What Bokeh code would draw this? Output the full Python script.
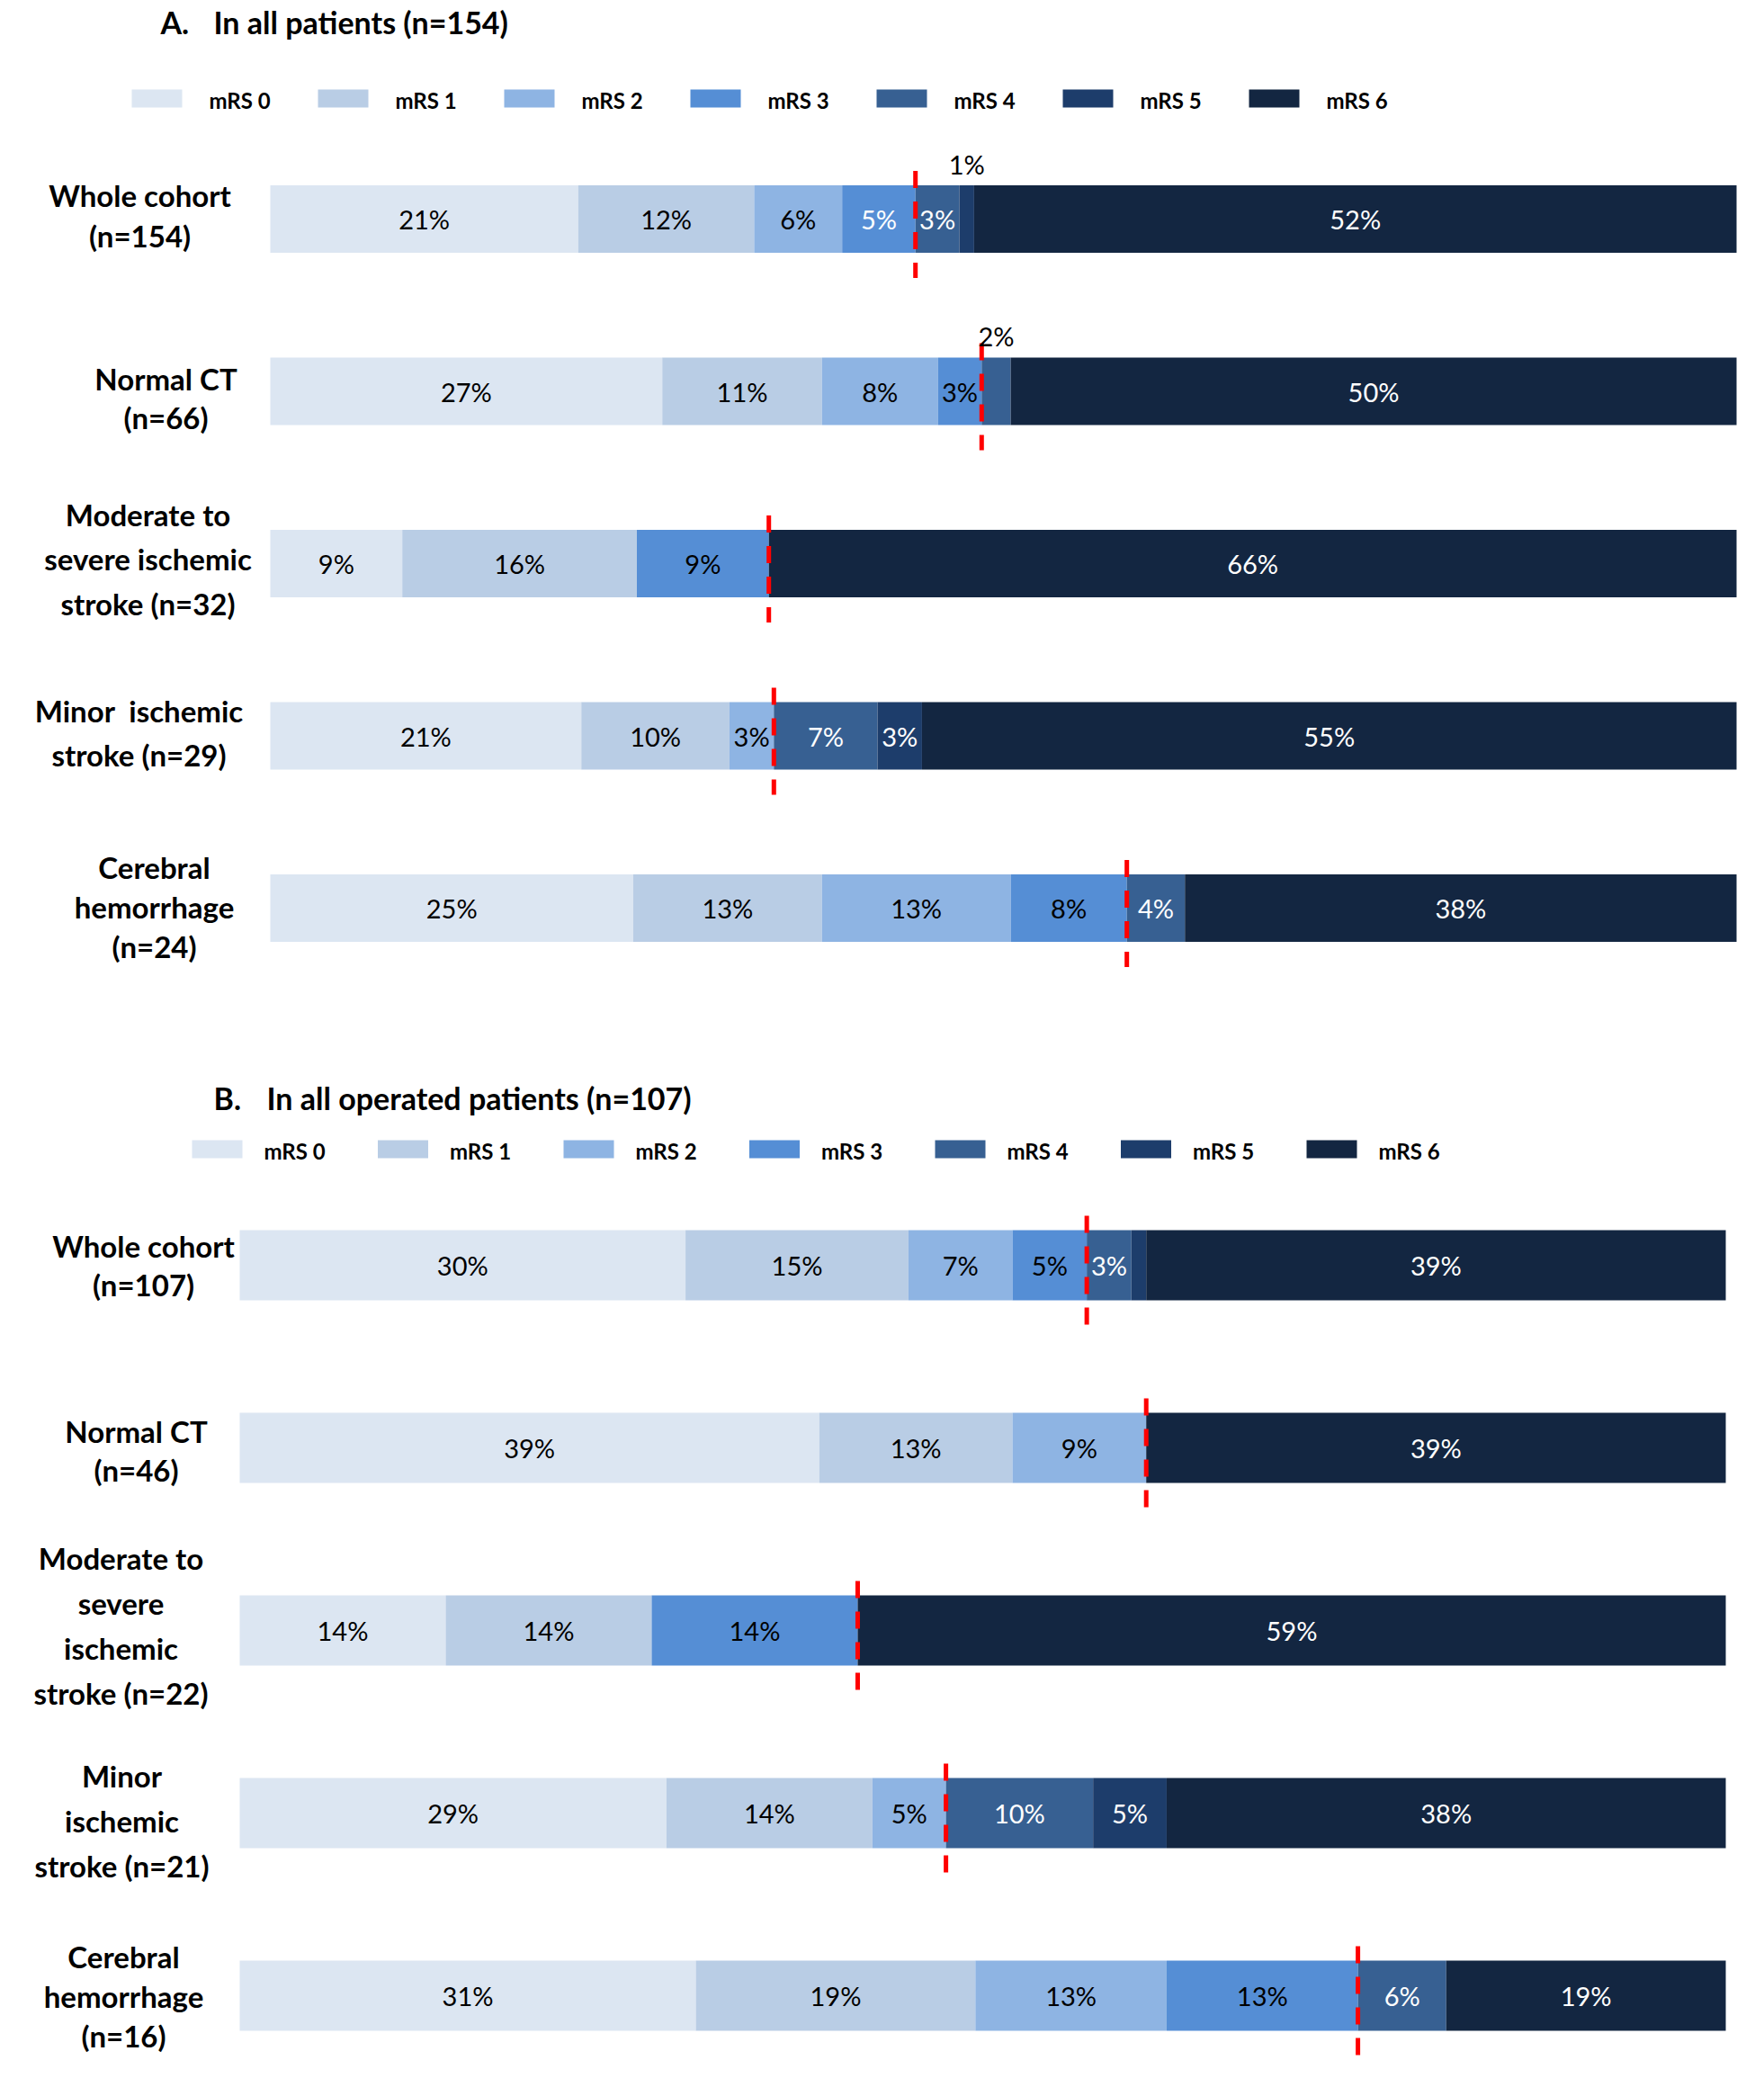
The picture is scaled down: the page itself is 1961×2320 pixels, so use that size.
import numpy as np
from bokeh.plotting import figure
from bokeh.models import ColumnDataSource, Range1d
from bokeh.layouts import column
from bokeh.embed import file_html
from bokeh.resources import INLINE
from bokeh.core.properties import value

# ---------------- data ----------------
categories = ["mRS 0", "mRS 1", "mRS 2", "mRS 3", "mRS 4", "mRS 5", "mRS 6"]
colors = ["#dce6f2", "#b9cde5", "#8eb4e3", "#558ed5", "#376092", "#1d3d6b", "#132641"]

title_a = "In all patients (n=154)"
rows_a = ["Whole cohort\n(n=154)", "Normal CT\n(n=66)",
          "Moderate to\nsevere ischemic\nstroke (n=32)",
          "Minor\u00a0 ischemic\nstroke (n=29)", "Cerebral\nhemorrhage\n(n=24)"]
a_mrs0 = [21, 27, 9, 21, 25]
a_mrs1 = [12, 11, 16, 10, 13]
a_mrs2 = [6, 8, 0, 3, 13]
a_mrs3 = [5, 3, 9, 0, 8]
a_mrs4 = [3, 2, 0, 7, 4]
a_mrs5 = [1, 0, 0, 3, 0]
a_mrs6 = [52, 50, 66, 55, 38]

title_b = "In all operated patients (n=107)"
rows_b = ["Whole cohort\n(n=107)", "Normal CT\n(n=46)",
          "Moderate to\nsevere\nischemic\nstroke (n=22)",
          "Minor\nischemic\nstroke (n=21)", "Cerebral\nhemorrhage\n(n=16)"]
b_mrs0 = [30, 39, 14, 29, 31]
b_mrs1 = [15, 13, 14, 14, 19]
b_mrs2 = [7, 9, 0, 5, 13]
b_mrs3 = [5, 0, 14, 0, 13]
b_mrs4 = [3, 0, 0, 10, 6]
b_mrs5 = [1, 0, 0, 5, 0]
b_mrs6 = [39, 39, 59, 38, 19]

# label handling: (row, series)
a_above = [(0, 5), (1, 4)]
a_hidden = []
a_white = [(0, 3)]
b_above = []
b_hidden = [(0, 5)]
b_white = []

# ---------------- layout (reference pixels) ----------------
FONT = "Lato"
W = 1945
cfg_a = dict(top=0, height=1160, x0=300, x1=1930, row0=243, step=191.5, bar_h=75,
             letter_x=178, text_x=237, title_y=24,
             leg_x=146, leg_dx=207, leg_y=109, leg_off=86,
             lab_x=[155, 184, 164, 154, 171],
             lab_y=[239, 442, 621, 814, 1007],
             lab_lh=[1.12, 1.08, 1.24, 1.23, 1.10])
cfg_b = dict(top=1160, height=1152, x0=266, x1=1918, row0=1406, step=203, bar_h=78,
             letter_x=237, text_x=296, title_y=1220,
             leg_x=213, leg_dx=206.5, leg_y=1277, leg_off=80,
             lab_x=[159, 151, 134, 135, 137],
             lab_y=[1406, 1612, 1806, 2023, 2218],
             lab_lh=[1.08, 1.08, 1.25, 1.25, 1.10])


def panel(letter, title, rows, series, above, hidden, white, c):
    S = (c["x1"] - c["x0"]) / 100.0
    xc = lambda rx: (rx - c["x0"]) / S
    yc = lambda ry: (ry - c["row0"]) / c["step"]
    p = figure(width=W, height=c["height"],
               x_range=Range1d(xc(0), xc(W)),
               y_range=Range1d(yc(c["top"] + c["height"]), yc(c["top"])),
               output_backend="svg", toolbar_location=None,
               x_axis_location=None, y_axis_location=None, min_border=0)
    p.grid.visible = False
    p.outline_line_color = None
    p.background_fill_color = "white"
    p.border_fill_color = "white"

    vals = np.array(series, dtype=float)
    norm = vals / vals.sum(axis=0) * 100.0
    cum = np.cumsum(norm, axis=0)
    left = cum - norm
    n = len(rows)
    ys = np.arange(n, dtype=float)
    bh = c["bar_h"] / c["step"]

    data = {"y": ys}
    names = []
    for i in range(len(categories)):
        data[f"s{i}"] = norm[i]
        names.append(f"s{i}")
    src = ColumnDataSource(data)
    p.hbar_stack(stackers=names, y="y", height=bh, color=colors, source=src,
                 line_color=None)

    # dichotomy line mRS 0-3 vs 4-6
    xd = cum[3]
    p.segment(x0=xd, y0=ys - bh / 2 - 16 / c["step"], x1=xd,
              y1=ys + bh / 2 + 28 / c["step"],
              line_color="#ff0000", line_width=5, line_dash="19 15")

    # percentage labels
    lx, ly, lt, lc = [], [], [], []
    for r in range(n):
        for i in range(len(categories)):
            v = vals[i, r]
            if v <= 0 or (r, i) in hidden:
                continue
            lx.append(left[i, r] + norm[i, r] / 2)
            if (r, i) in above:
                ly.append(r - bh / 2 - 24 / c["step"])
                lc.append("black")
            else:
                ly.append(r)
                lc.append("white" if (i >= 4 or (r, i) in white) else "black")
            lt.append(f"{int(v)}%")
    p.text(x=lx, y=ly, text=lt, text_color=lc, text_align="center",
           text_baseline="middle", text_font=value(FONT), text_font_size="29px")

    # row labels
    for r in range(n):
        p.text(x=[xc(c["lab_x"][r])], y=[yc(c["lab_y"][r])], text=[rows[r]],
               text_align="center", text_baseline="middle", text_font=value(FONT),
               text_font_size="33px", text_font_style="bold",
               text_line_height=c["lab_lh"][r], text_color="black")

    # title
    p.text(x=[xc(c["letter_x"]), xc(c["text_x"])], y=[yc(c["title_y"])] * 2,
           text=[letter, title], text_align="left", text_baseline="middle",
           text_font=value(FONT), text_font_size="34px", text_font_style="bold",
           text_color="black")

    # legend
    sx = [xc(c["leg_x"] + 28 + k * c["leg_dx"]) for k in range(len(categories))]
    tx = [xc(c["leg_x"] + c["leg_off"] + k * c["leg_dx"]) for k in range(len(categories))]
    ly0 = yc(c["leg_y"])
    p.rect(x=sx, y=[ly0] * len(sx), width=56, height=20, width_units="screen",
           height_units="screen", fill_color=colors, line_color=None)
    p.text(x=tx, y=[yc(c["leg_y"] + 2)] * len(tx), text=categories,
           text_align="left", text_baseline="middle", text_font=value(FONT),
           text_font_size="24px", text_font_style="bold", text_color="black")
    return p


pa = panel("A.", title_a, rows_a,
           [a_mrs0, a_mrs1, a_mrs2, a_mrs3, a_mrs4, a_mrs5, a_mrs6],
           a_above, a_hidden, a_white, cfg_a)
pb = panel("B.", title_b, rows_b,
           [b_mrs0, b_mrs1, b_mrs2, b_mrs3, b_mrs4, b_mrs5, b_mrs6],
           b_above, b_hidden, b_white, cfg_b)

layout = column(pa, pb, spacing=0)
open("out.html", "w").write(file_html(layout, INLINE))
